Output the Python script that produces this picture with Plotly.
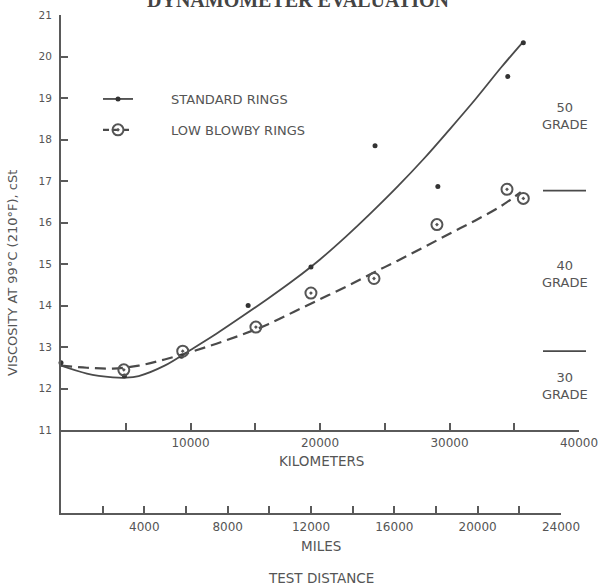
import plotly.graph_objects as go

# ---------------- data ----------------
# measured points, km vs viscosity (cSt)
std_km = [0, 4900, 9300, 14450, 19300, 24250, 29100, 34500, 35700]
std_visc = [12.62, 12.3, 12.78, 14.0, 14.93, 17.85, 16.87, 19.52, 20.33]

low_km = [4850, 9400, 15050, 19300, 24170, 29030, 34440, 35700]
low_visc = [12.45, 12.9, 13.48, 14.3, 14.65, 15.95, 16.8, 16.58]

# fitted curves as drawn in the picture
std_curve_km = [0, 2000, 4000, 5000, 6000, 8000, 10000, 12000, 14000, 16000,
                18000, 20000, 22000, 24000, 26000, 28000, 30000, 32000, 34000, 35700]
std_curve_visc = [12.55, 12.36, 12.27, 12.26, 12.3, 12.55, 12.93, 13.32, 13.74, 14.17,
                  14.62, 15.11, 15.66, 16.25, 16.87, 17.53, 18.24, 18.97, 19.74, 20.36]

low_curve_km = [0, 2000, 4000, 6000, 8000, 10000, 12000, 14000, 16000, 18000,
                20000, 22000, 24000, 26000, 28000, 30000, 32000, 34000, 35500]
low_curve_visc = [12.55, 12.5, 12.48, 12.55, 12.7, 12.88, 13.08, 13.3, 13.55, 13.85,
                  14.15, 14.45, 14.77, 15.08, 15.4, 15.73, 16.05, 16.4, 16.73]

# SAE grade boundaries (cSt) and grade labels
grade_bounds = [16.77, 12.9]
grade_names = ["50", "40", "30"]
grade_label_visc = [18.57, 14.76, 12.06]

# axis ticks
visc_ticks = list(range(11, 22))
km_ticks = [5000, 10000, 15000, 20000, 25000, 30000, 35000, 40000]
km_labels = ["", "10000", "", "20000", "", "30000", "", "40000"]
mi_ticks = [2000, 4000, 6000, 8000, 10000, 12000, 14000, 16000, 18000, 20000, 22000, 24000]
mi_labels = ["", "4000", "", "8000", "", "12000", "", "16000", "", "20000", "", "24000"]

# ---------------- figure ----------------
W, H = 599, 585
ML, MR, MT, MB = 61, 20, 15, 72
PW, PH = W - ML - MR, H - MT - MB


def px_x(x):
    return (x - ML) / PW


def px_y(y):
    return (H - MB - y) / PH


INK = "#4a4a4a"
TXT = "#555555"
FONT = "DejaVu Sans"

fig = go.Figure()

# curves
fig.add_trace(go.Scatter(x=std_curve_km, y=std_curve_visc, mode="lines",
                         line=dict(color=INK, width=1.8, shape="spline"),
                         showlegend=False, hoverinfo="skip"))
fig.add_trace(go.Scatter(x=low_curve_km, y=low_curve_visc, mode="lines",
                         line=dict(color=INK, width=2.2, shape="spline", dash="11px,6px"),
                         showlegend=False, hoverinfo="skip"))
# points
fig.add_trace(go.Scatter(x=std_km, y=std_visc, mode="markers",
                         marker=dict(color="#333333", size=5),
                         showlegend=False, cliponaxis=False))
fig.add_trace(go.Scatter(x=low_km, y=low_visc, mode="markers",
                         marker=dict(symbol="circle-open-dot", color="#555555", size=11,
                                     line=dict(width=2, color="#555555")),
                         showlegend=False, cliponaxis=False))

# legend entries
pad = "\u00a0" * 8
fig.add_trace(go.Scatter(x=[None], y=[None], mode="lines+markers", name=pad + "STANDARD RINGS",
                         line=dict(color=INK, width=1.8),
                         marker=dict(color="#333333", size=5), legendgroup="a"))
fig.add_trace(go.Scatter(x=[None], y=[None], mode="lines+markers", name=pad + "LOW BLOWBY RINGS",
                         line=dict(color=INK, width=2.2, dash="6px,4px"),
                         marker=dict(symbol="circle-open-dot", color="#555555", size=11,
                                     line=dict(width=2, color="#555555")), legendgroup="b"))

# dummy trace for the miles axis subplot
fig.add_trace(go.Scatter(x=[None], y=[None], xaxis="x2", yaxis="y2",
                         showlegend=False, hoverinfo="skip"))

ydom0 = px_y(430)

axis_common = dict(showgrid=False, zeroline=False, showline=True, linecolor="#5a5a5a",
                   linewidth=2, ticks="inside", ticklen=7, tickwidth=1.5, tickcolor="#5a5a5a",
                   automargin=False,
                   tickfont=dict(family=FONT, size=12, color=TXT))

fig.update_layout(
    width=W, height=H,
    margin=dict(l=ML, r=MR, t=MT, b=MB, autoexpand=False),
    paper_bgcolor="white", plot_bgcolor="white",
    font=dict(family=FONT, color=TXT),
    xaxis=dict(range=[0, 40000], tickvals=km_ticks, ticktext=km_labels,
               domain=[0, 1], anchor="y", ticklabelstandoff=1, **axis_common),
    yaxis=dict(range=[11, 21], tickvals=visc_ticks, domain=[ydom0, 1], anchor="x",
               ticklabelstandoff=5, **{**axis_common, "tickfont": dict(family=FONT, size=10.5, color=TXT)}),
    xaxis2=dict(range=[0, 24000], tickvals=mi_ticks, ticktext=mi_labels,
                domain=[0, px_x(561)], anchor="y2", ticklabelstandoff=2, **axis_common),
    yaxis2=dict(range=[0, 1], domain=[0, ydom0], anchor="x2", showgrid=False, zeroline=False,
                showline=True, linecolor="#5a5a5a", linewidth=2, ticks="", showticklabels=False,
                automargin=False),
    legend=dict(x=px_x(98), y=px_y(84), xanchor="left", yanchor="top",
                font=dict(family=FONT, size=13, color=TXT), bgcolor="rgba(0,0,0,0)",
                traceorder="grouped", tracegroupgap=11),
    showlegend=True,
)

# grade boundary lines
for v in grade_bounds:
    fig.add_shape(type="line", xref="paper", yref="y", x0=px_x(543), x1=px_x(586),
                  y0=v, y1=v, line=dict(color=INK, width=1.8))

# grade labels
for name, v in zip(grade_names, grade_label_visc):
    fig.add_annotation(xref="paper", yref="y", x=px_x(565), y=v, text=name + "<br>GRADE",
                       showarrow=False, font=dict(family=FONT, size=13, color=TXT),
                       align="center", xanchor="center", yanchor="middle")

# axis titles
fig.add_annotation(xref="paper", yref="paper", x=px_x(321), y=px_y(461), text="KILOMETERS",
                   xanchor="center", yanchor="middle",
                   showarrow=False, font=dict(family=FONT, size=13.5, color=TXT))
fig.add_annotation(xref="paper", yref="paper", x=px_x(321), y=px_y(546), text="MILES",
                   xanchor="center", yanchor="middle",
                   showarrow=False, font=dict(family=FONT, size=13.5, color=TXT))
fig.add_annotation(xref="paper", yref="paper", x=px_x(321), y=px_y(578), text="TEST DISTANCE",
                   xanchor="center", yanchor="middle",
                   showarrow=False, font=dict(family=FONT, size=13.5, color=TXT))
fig.add_annotation(xref="paper", yref="paper", x=px_x(12), y=px_y(273),
                   text="VISCOSITY AT 99°C (210°F), cSt", textangle=-90,
                   xanchor="center", yanchor="middle",
                   showarrow=False, font=dict(family=FONT, size=13, color=TXT))

# title, cut off at the top of the picture
fig.add_annotation(xref="paper", yref="paper", x=px_x(298), y=px_y(13), yanchor="bottom",
                   xanchor="center",
                   text="<b>DYNAMOMETER EVALUATION</b>", showarrow=False,
                   font=dict(family="Liberation Serif", size=20, color="#444444"))

fig.write_html("out.html", config={"displayModeBar": False},
               post_script="document.body.style.margin='0';document.body.style.overflow='hidden';")
